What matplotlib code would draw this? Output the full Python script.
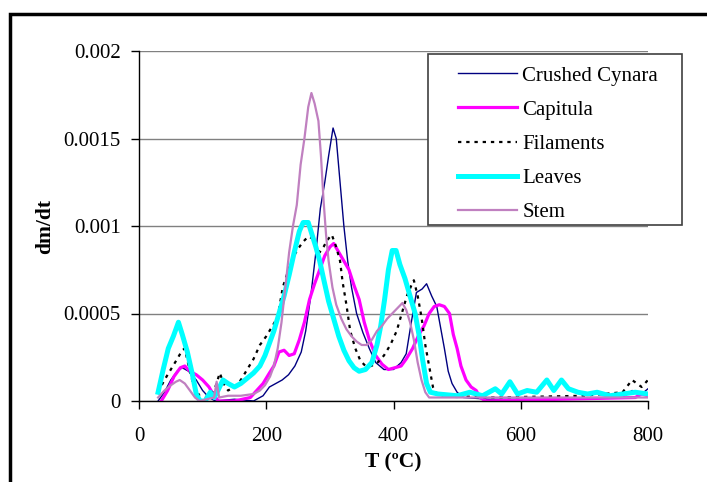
import matplotlib.pyplot as plt
from matplotlib.patches import Rectangle

plt.rcParams['font.family'] = ['Liberation Serif', 'DejaVu Serif']

# Crushed Cynara
cynara_T = [30, 40, 50, 60, 68, 78, 90, 100, 110, 120, 150, 180, 195, 205, 215, 225, 235, 245,
            255, 262, 270, 278, 285, 292, 298, 305, 310, 316, 322, 328, 334, 342, 352, 362, 372,
            385, 400, 412, 420, 428, 436, 445, 452, 460, 468, 474, 480, 486, 492, 500, 510, 550,
            650, 760, 775, 790, 800]
cynara_v = [0.0, 0.00005, 0.00012, 0.00017, 0.00019, 0.00017, 0.00012, 0.00006, 0.00002, 0.0,
            0.00001, 0.0, 0.00003, 0.00008, 0.00010, 0.00012, 0.00015, 0.00020, 0.00028, 0.00040,
            0.00060, 0.00085, 0.00110, 0.00125, 0.00140, 0.00156, 0.00150, 0.00125, 0.00100,
            0.00080, 0.00065, 0.00050, 0.00039, 0.00030, 0.00022, 0.00018, 0.00018, 0.00022,
            0.00027, 0.00045, 0.00062, 0.00064, 0.00067, 0.00060, 0.00054, 0.00042, 0.00030,
            0.00017, 0.00010, 0.00005, 0.00002, 0.00001, 0.00001, 0.00002, 0.00006, 0.00004,
            0.00007]

# Capitula
capitula_T = [35, 45, 55, 65, 72, 80, 90, 100, 110, 118, 125, 150, 175, 185, 195, 205, 212, 220,
              228, 236, 244, 252, 260, 268, 276, 284, 292, 300, 306, 314, 322, 330, 338, 346, 354,
              362, 372, 382, 392, 402, 412, 420, 430, 440, 448, 456, 464, 472, 480, 488, 494, 500,
              506, 514, 522, 530, 536, 545, 780, 790, 800]
capitula_v = [0.0, 0.00006, 0.00014, 0.00019, 0.00020, 0.00017, 0.00015, 0.00012, 0.00008,
              0.00003, 0.0, 0.0, 0.00002, 0.00006, 0.00010, 0.00016, 0.00020, 0.00028, 0.00029,
              0.00026, 0.00027, 0.00035, 0.00045, 0.00058, 0.00067, 0.00075, 0.00083, 0.00088,
              0.00090, 0.00085, 0.00080, 0.00075, 0.00066, 0.00058, 0.00045, 0.00035, 0.00026,
              0.00021, 0.00018, 0.00019, 0.00020, 0.00024, 0.00030, 0.00038, 0.00043, 0.00050,
              0.00054, 0.00055, 0.00054, 0.00050, 0.00038, 0.00030, 0.00020, 0.00012, 0.00008,
              0.00006, 0.00002, 0.0, 0.00002, 0.00004, 0.00003]

# Filaments
filaments_T = [30, 40, 50, 60, 68, 72, 78, 85, 95, 110, 120, 127, 133, 140, 150, 160, 170, 180,
               190, 200, 210, 218, 226, 235, 242, 250, 258, 266, 272, 278, 284, 290, 296, 303,
               310, 316, 320, 326, 332, 340, 348, 356, 365, 375, 385, 395, 405, 413, 421, 428,
               432, 438, 444, 450, 456, 462, 470, 560, 700, 760, 775, 790, 800]
filaments_v = [0.00005, 0.00012, 0.00018, 0.00024, 0.00029, 0.00030, 0.00020, 0.00010, 0.00003,
               0.00002, 0.00008, 0.00016, 0.00010, 0.00006, 0.00008, 0.00012, 0.00018, 0.00024,
               0.00032, 0.00037, 0.00043, 0.00048, 0.00065, 0.00075, 0.00082, 0.00087, 0.00091,
               0.00094, 0.00093, 0.00088, 0.00085, 0.00088, 0.00092, 0.00095, 0.00088, 0.00080,
               0.00068, 0.00055, 0.00040, 0.00030, 0.00023, 0.00020, 0.00020, 0.00022, 0.00026,
               0.00032, 0.00040, 0.00050, 0.00060, 0.00066, 0.00069, 0.00060, 0.00048, 0.00032,
               0.00020, 0.00008, 0.00003, 0.00002, 0.00003, 0.00005, 0.00012, 0.00008, 0.00012]

# Leaves
leaves_T = [30, 38, 46, 54, 62, 68, 76, 84, 90, 96, 104, 112, 118, 124, 132, 140, 150, 160, 170,
            180, 190, 198, 205, 212, 220, 228, 236, 244, 252, 258, 266, 272, 278, 284, 290, 298,
            306, 314, 322, 330, 338, 346, 356, 366, 374, 380, 386, 392, 398, 404, 410, 418, 426,
            434, 440, 446, 452, 458, 470, 500, 520, 540, 560, 570, 583, 595, 610, 625, 641, 652,
            664, 675, 690, 705, 720, 740, 760, 780, 800]
leaves_v = [0.00005, 0.00018, 0.00030, 0.00037, 0.00045, 0.00038, 0.00028, 0.00015, 0.00004,
            0.0, 0.0, 0.00005, 0.00002, 0.00006, 0.00012, 0.00010, 0.00008, 0.00010, 0.00013,
            0.00016, 0.00020, 0.00026, 0.00033, 0.00040, 0.00050, 0.00060, 0.00072, 0.00085,
            0.00097, 0.00102, 0.00102, 0.00095, 0.00088, 0.00080, 0.00070, 0.00057, 0.00047,
            0.00037, 0.00029, 0.00023, 0.00019, 0.00017, 0.00018, 0.00022, 0.00032, 0.00043,
            0.00058, 0.00075, 0.00086, 0.00086, 0.00078, 0.00070, 0.00060, 0.00050, 0.00038,
            0.00023, 0.00010, 0.00005, 0.00004, 0.00003, 0.00005, 0.00003, 0.00007, 0.00004,
            0.00011, 0.00004, 0.00006, 0.00005, 0.00012, 0.00006, 0.00012, 0.00007, 0.00005,
            0.00004, 0.00005, 0.00003, 0.00004, 0.00005, 0.00004]

# Stem
stem_T = [30, 40, 50, 58, 64, 72, 80, 88, 95, 118, 122, 126, 140, 160, 180, 190, 198, 206, 212,
          218, 224, 230, 236, 242, 248, 254, 260, 266, 271, 276, 282, 286, 290, 294, 298, 304,
          310, 318, 326, 334, 342, 350, 358, 366, 374, 382, 390, 398, 406, 414, 420, 426, 432,
          438, 444, 450, 456, 500, 550, 600, 650, 700, 750, 800]
stem_v = [0.00002, 0.00006, 0.00009, 0.00011, 0.00012, 0.00010, 0.00006, 0.00002, 0.0, 0.00002,
          0.00011, 0.00002, 0.00003, 0.00003, 0.00004, 0.00006, 0.00009, 0.00014, 0.00020,
          0.00030, 0.00045, 0.00065, 0.00085, 0.00100, 0.00112, 0.00135, 0.00150, 0.00168,
          0.00176, 0.00170, 0.00160, 0.00140, 0.00115, 0.00095, 0.00080, 0.00065, 0.00055,
          0.00047, 0.00041, 0.00037, 0.00034, 0.00032, 0.00032, 0.00035, 0.00040, 0.00043,
          0.00047, 0.00050, 0.00053, 0.00056, 0.00052, 0.00045, 0.00035, 0.00022, 0.00012,
          0.00005, 0.00002, 0.00002, 0.00002, 0.00002, 0.00002, 0.00002, 0.00002, 0.00002]

y_ticks = [0, 0.0005, 0.001, 0.0015, 0.002]
y_tick_labels = ['0', '0.0005', '0.001', '0.0015', '0.002']
x_ticks = [0, 200, 400, 600, 800]

W, H = 707, 482
fig = plt.figure(figsize=(W / 100, H / 100), dpi=100)
ax = fig.add_axes([139 / W, 1 - 401 / H, 509 / W, 350 / H])

ax.plot(cynara_T, cynara_v, color='#000080', lw=1.0, label='Crushed Cynara')
ax.plot(capitula_T, capitula_v, color='#ff00ff', lw=2.3, label='Capitula')
ax.plot(filaments_T, filaments_v, color='black', lw=1.6, ls=(0, (1.5, 2.2)), label='Filaments')
ax.plot(leaves_T, leaves_v, color='#00ffff', lw=3.6, label='Leaves')
ax.plot(stem_T, stem_v, color='#c080c0', lw=1.6, label='Stem')

ax.set_xlim(0, 800)
ax.set_ylim(0, 0.002)
ax.set_xticks(x_ticks)
ax.set_yticks(y_ticks)
ax.set_yticklabels(y_tick_labels)
ax.tick_params(direction='out', length=6, width=1, labelsize=15, colors='black')
ax.tick_params(axis='x', pad=13)
ax.tick_params(axis='y', pad=7)
ax.yaxis.grid(True, color='#808080', lw=1)
ax.set_axisbelow(True)
for s in ['top', 'right']:
    ax.spines[s].set_visible(False)
for s in ['left', 'bottom']:
    ax.spines[s].set_linewidth(1)
ax.set_xlabel('T (ºC)', fontsize=15.5, fontweight='bold')
ax.set_ylabel('dm/dt', fontsize=15.5, fontweight='bold')
ax.xaxis.set_label_coords(0.5, -0.148)
ax.yaxis.set_label_coords(-0.165, 0.5)

# legend box and outer frame
fig.patches.append(Rectangle((428 / W, 1 - 225 / H), 254 / W, 171 / H, transform=fig.transFigure,
                             facecolor='white', edgecolor='#404040', lw=1.2, zorder=2))
fig.patches.append(Rectangle((10 / W, -0.1), 1.2, 1 - 14 / H + 0.1, transform=fig.transFigure,
                             fill=False, edgecolor='black', lw=2.5, zorder=3))
fig.legend(loc='upper left', bbox_to_anchor=(458 / W, 1 - 66 / H), frameon=False,
           fontsize=15, handlelength=2.84, handletextpad=0.24, labelspacing=0.70,
           borderpad=0, borderaxespad=0)

fig.savefig('out.png', dpi=100)
